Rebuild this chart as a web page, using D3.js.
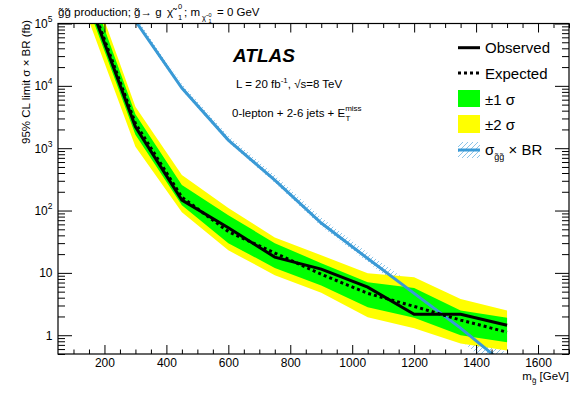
<!DOCTYPE html>
<html lang="en">
<head>
<meta charset="utf-8"/>
<title>Gluino limit</title>
<script src="https://d3js.org/d3.v7.min.js"></script>
<style>
  body { margin: 0; background: #fff; }
  svg text { font-family: "Liberation Sans", Arial, Helvetica, sans-serif; fill: #000; }
  .tick line { stroke: #000; }
</style>
</head>
<body>
<div id="chart"></div>
<script>
// ---- data ----
var masses   = [150, 300, 450, 600, 750, 900, 1050, 1200, 1350, 1500];
var observed = [2.3e5, 2200, 147, 53, 17.9, 11.5, 5.9, 2.17, 2.17, 1.45];
var expected = [2.6e5, 2500, 164, 46, 20.8, 9.5, 4.7, 2.9, 1.75, 1.12];
var band1Up  = [4.0e5, 3500, 257, 84, 30, 14.3, 7.1, 5.7, 2.5, 1.9];
var band1Dn  = [1.7e5, 1650, 122, 30, 12, 6.3, 2.8, 1.9, 1.0, 0.77];
var band2Up  = [5.5e5, 4600, 370, 110, 37, 19.2, 9.9, 8.5, 3.8, 2.5];
var band2Dn  = [1.1e5, 1050, 94, 23, 9.2, 4.8, 1.94, 1.3, 0.74, 0.57];

var thMasses = [300, 450, 600, 750, 900, 1050, 1200, 1350, 1500];
var thXsec   = [1.1e5, 9200, 1350, 308, 63, 17, 4.7, 1.3, 0.32];
var thUp     = [1.3e5, 1.07e4, 1590, 368, 77, 21, 6.2, 1.85, 0.5];
var thDn     = [1.0e5, 8500, 1240, 280, 56, 15, 3.9, 0.85, 0.18];

var xMajor = [200, 400, 600, 800, 1000, 1200, 1400, 1600];
var yMajor = [1, 10, 100, 1000, 10000, 100000];

// ---- layout ----
var W = 581, H = 394;
var pL = 58, pR = 569, pT = 23.5, pB = 354;

var x = d3.scaleLinear().domain([50, 1700]).range([pL, pR]);
var y = d3.scaleLog().domain([0.5, 1e5]).range([pB, pT]);

var svg = d3.select("#chart").append("svg")
  .attr("width", W).attr("height", H);

var defs = svg.append("defs");
defs.append("clipPath").attr("id", "plotclip")
  .append("rect").attr("x", pL).attr("y", pT)
  .attr("width", pR - pL).attr("height", pB - pT);

var pat = defs.append("pattern").attr("id", "hatch")
  .attr("patternUnits", "userSpaceOnUse").attr("width", 5).attr("height", 5);
pat.append("path")
  .attr("d", "M-1,1 L1,-1 M0,5 L5,0 M4,6 L6,4")
  .attr("stroke", "#8cc4e8").attr("stroke-width", 1);

var plot = svg.append("g").attr("clip-path", "url(#plotclip)");

function band(xs, up, dn) {
  var pts = xs.map(function(m, i) { return [x(m), y(up[i])]; });
  for (var i = xs.length - 1; i >= 0; i--) pts.push([x(xs[i]), y(dn[i])]);
  return "M" + pts.join("L") + "Z";
}

var line = d3.line().x(function(d) { return x(d[0]); }).y(function(d) { return y(d[1]); });

// theory hatch band
plot.append("path").attr("d", band(thMasses, thUp, thDn)).attr("fill", "url(#hatch)");

// expected bands
plot.append("path").attr("d", band(masses, band2Up, band2Dn)).attr("fill", "#ffff00");
plot.append("path").attr("d", band(masses, band1Up, band1Dn)).attr("fill", "#00ff00");

// theory line
plot.append("path").attr("d", line(d3.zip(thMasses, thXsec)))
  .attr("fill", "none").attr("stroke", "#3a9ad6").attr("stroke-width", 3);

// expected
plot.append("path").attr("d", line(d3.zip(masses, expected)))
  .attr("fill", "none").attr("stroke", "#000").attr("stroke-width", 3)
  .attr("stroke-dasharray", "3,3");

// observed
plot.append("path").attr("d", line(d3.zip(masses, observed)))
  .attr("fill", "none").attr("stroke", "#000").attr("stroke-width", 3);

// ---- axes ----
var xMinor = d3.range(100, 1701, 50).filter(function(v) { return v % 200 !== 0; });
var yMinor = [];
[0.1, 1, 10, 100, 1000, 10000].forEach(function(p) {
  for (var k = 2; k <= 9; k++) { var v = p * k; if (v >= 0.5 && v < 1e5) yMinor.push(v); }
});

function noDomain(g) { g.select(".domain").remove(); }

svg.append("g").attr("transform", "translate(0," + pB + ")")
  .call(d3.axisBottom(x).tickValues(xMajor).tickSize(-9).tickPadding(4).tickFormat(d3.format("d")))
  .call(noDomain)
  .call(function(g) {
    g.attr("font-family", null).attr("font-size", null);
    g.selectAll("text").attr("font-size", 12).attr("dy", "0.72em");
  });
svg.append("g").attr("transform", "translate(0," + pB + ")")
  .call(d3.axisBottom(x).tickValues(xMinor).tickSize(-4.5).tickFormat(""))
  .call(noDomain);
svg.append("g").attr("transform", "translate(0," + pT + ")")
  .call(d3.axisTop(x).tickValues(xMajor).tickSize(-9).tickFormat(""))
  .call(noDomain);
svg.append("g").attr("transform", "translate(0," + pT + ")")
  .call(d3.axisTop(x).tickValues(xMinor).tickSize(-4.5).tickFormat(""))
  .call(noDomain);

svg.append("g").attr("transform", "translate(" + pL + ",0)")
  .call(d3.axisLeft(y).tickValues(yMajor).tickSize(-14).tickFormat(""))
  .call(noDomain);
svg.append("g").attr("transform", "translate(" + pL + ",0)")
  .call(d3.axisLeft(y).tickValues(yMinor).tickSize(-7).tickFormat(""))
  .call(noDomain);
svg.append("g").attr("transform", "translate(" + pR + ",0)")
  .call(d3.axisRight(y).tickValues(yMajor).tickSize(-14).tickFormat(""))
  .call(noDomain);
svg.append("g").attr("transform", "translate(" + pR + ",0)")
  .call(d3.axisRight(y).tickValues(yMinor).tickSize(-7).tickFormat(""))
  .call(noDomain);

// y tick labels with exponents
yMajor.forEach(function(v) {
  var t = svg.append("text").attr("x", 52.5).attr("y", y(v) + 4.5)
    .attr("text-anchor", "end").attr("font-size", 12);
  var e = Math.round(Math.log10(v));
  if (e <= 1) { t.text(String(v)); }
  else {
    t.append("tspan").text("10");
    t.append("tspan").attr("font-size", 8.5).attr("dy", -6).text(String(e));
  }
});

// frame
svg.append("rect").attr("x", pL).attr("y", pT)
  .attr("width", pR - pL).attr("height", pB - pT)
  .attr("fill", "none").attr("stroke", "#000").attr("stroke-width", 1.2);

// axis titles
svg.append("text").attr("transform", "translate(30,20) rotate(-90)")
  .attr("text-anchor", "end").attr("font-size", 11.5)
  .text("95% CL limit \u03c3 \u00d7 BR (fb)");

var xt = svg.append("text").attr("x", pR).attr("y", 380)
  .attr("text-anchor", "end").attr("font-size", 11.5);
xt.append("tspan").text("m");
xt.append("tspan").attr("font-size", 8).attr("dy", 3).text("g\u0303");
xt.append("tspan").attr("dy", -3).text(" [GeV]");

// top title, placed piece by piece
function txt(s, px, py, fs) {
  return svg.append("text").attr("x", px).attr("y", py).attr("font-size", fs).text(s);
}
txt("g\u0303g\u0303 production; g\u0303\u2192 g", 58, 15.5, 11.5);
txt("\u03c7\u0303", 167, 15.5, 11.5);
txt("0", 178, 9, 7.5);
txt("1", 178, 20, 7.5);
txt("; m", 184, 15.5, 11.5);
txt("\u03c7\u0303", 202, 20, 7.5);
txt("0", 208.5, 16.5, 5.5);
txt("1", 208.5, 23, 5.5);
txt("= 0 GeV", 217, 15.5, 11.5);

// ATLAS label block
svg.append("text").attr("x", 233).attr("y", 62)
  .attr("font-size", 19).attr("font-weight", "bold").attr("font-style", "italic")
  .text("ATLAS");

var lum = svg.append("text").attr("x", 236).attr("y", 88).attr("font-size", 11.5);
lum.append("tspan").text("L = 20 fb");
lum.append("tspan").attr("font-size", 8).attr("dy", -5).text("-1");
lum.append("tspan").attr("dy", 5).text(",  \u221as=8 TeV");

var sel = svg.append("text").attr("x", 232).attr("y", 117).attr("font-size", 11.5);
sel.append("tspan").text("0-lepton + 2-6 jets + E");
sel.append("tspan").attr("font-size", 8).attr("dy", -6).text("miss");
sel.append("tspan").attr("font-size", 8).attr("dx", -16).attr("dy", 10).text("T");

// ---- legend ----
var lx0 = 458, lx1 = 480, tx = 485;
svg.append("line").attr("x1", lx0).attr("x2", lx1).attr("y1", 47.7).attr("y2", 47.7)
  .attr("stroke", "#000").attr("stroke-width", 3);
svg.append("text").attr("x", tx).attr("y", 53.3).attr("font-size", 15).text("Observed");

svg.append("line").attr("x1", lx0).attr("x2", lx1).attr("y1", 73).attr("y2", 73)
  .attr("stroke", "#000").attr("stroke-width", 3).attr("stroke-dasharray", "3,3");
svg.append("text").attr("x", tx).attr("y", 79).attr("font-size", 15).text("Expected");

svg.append("rect").attr("x", lx0).attr("y", 90).attr("width", lx1 - lx0).attr("height", 17)
  .attr("fill", "#00ff00");
svg.append("text").attr("x", tx).attr("y", 105).attr("font-size", 15).text("\u00b11 \u03c3");

svg.append("rect").attr("x", lx0).attr("y", 115).attr("width", lx1 - lx0).attr("height", 18)
  .attr("fill", "#ffff00");
svg.append("text").attr("x", tx).attr("y", 130).attr("font-size", 15).text("\u00b12 \u03c3");

svg.append("rect").attr("x", lx0).attr("y", 142).attr("width", lx1 - lx0).attr("height", 16)
  .attr("fill", "url(#hatch)");
svg.append("line").attr("x1", lx0).attr("x2", lx1).attr("y1", 150).attr("y2", 150)
  .attr("stroke", "#3a9ad6").attr("stroke-width", 3);
var sl = svg.append("text").attr("x", tx).attr("y", 155).attr("font-size", 15);
sl.append("tspan").text("\u03c3");
sl.append("tspan").attr("font-size", 9).attr("dy", 5).text("g\u0303g\u0303");
sl.append("tspan").attr("dy", -5).text(" \u00d7 BR");
</script>
</body>
</html>
